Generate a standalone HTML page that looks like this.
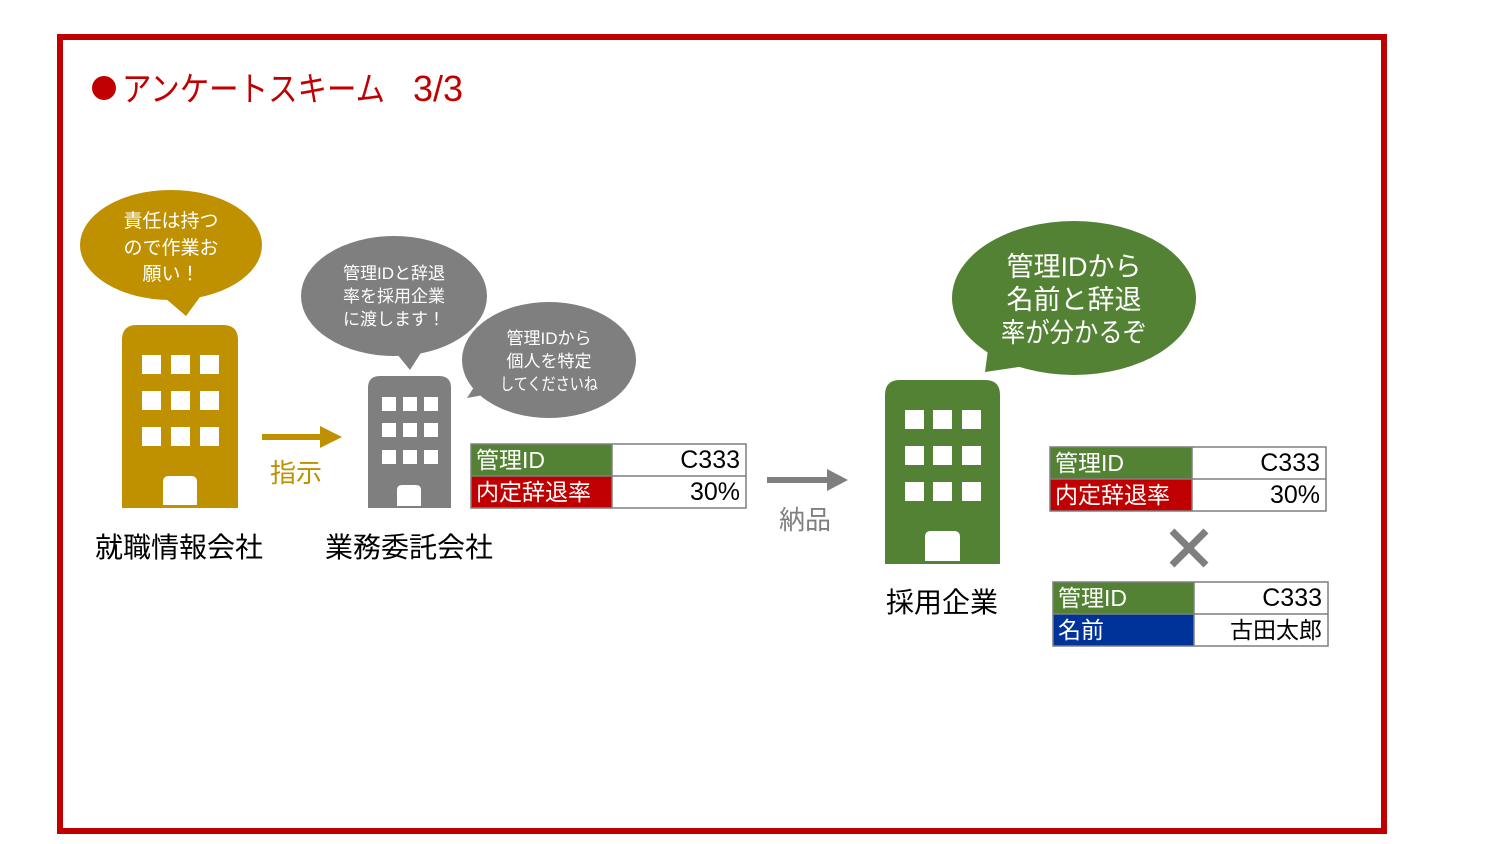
<!DOCTYPE html>
<html><head><meta charset="utf-8"><style>
body{margin:0;width:1500px;height:844px;background:#fff;overflow:hidden}
svg{display:block}
text{font-family:"Liberation Sans","Noto Sans CJK JP",sans-serif}
</style></head><body>
<svg width="1500" height="844" viewBox="0 0 1500 844">
<rect x="60" y="37" width="1324" height="794" fill="none" stroke="#C00000" stroke-width="6"/>
<circle cx="104" cy="88" r="12" fill="#C00000"/>
<text x="122" y="101" font-size="34" fill="#C00000" textLength="263" lengthAdjust="spacingAndGlyphs">アンケートスキーム</text>
<text x="413" y="101" font-size="36" fill="#C00000">3/3</text>

<!-- bubble 1 gold -->
<path d="M165,298 L186,316 L200,297 Z" fill="#BF9000"/>
<ellipse cx="171" cy="245" rx="91" ry="55" fill="#BF9000"/>
<g fill="#fff" font-size="19" text-anchor="middle">
<text x="171" y="227">責任は持つ</text><text x="171" y="254">ので作業お</text><text x="171" y="280">願い！</text></g>

<!-- building 1 -->
<path d="M122,508 V340 Q122,325 137,325 H223 Q238,325 238,340 V508 Z" fill="#BF9000"/>
<g fill="#fff">
<rect x="142" y="355" width="19" height="19"/><rect x="171" y="355" width="19" height="19"/><rect x="200" y="355" width="19" height="19"/>
<rect x="142" y="391" width="19" height="19"/><rect x="171" y="391" width="19" height="19"/><rect x="200" y="391" width="19" height="19"/>
<rect x="142" y="427" width="19" height="19"/><rect x="171" y="427" width="19" height="19"/><rect x="200" y="427" width="19" height="19"/>
<path d="M163,505 V482 Q163,476 169,476 H191 Q197,476 197,482 V505 Z"/></g>

<!-- arrow gold -->
<rect x="262" y="434" width="60" height="6" fill="#BF9000"/>
<path d="M320,426 L342,437 L320,448 Z" fill="#BF9000"/>
<text x="296" y="482" font-size="26" fill="#BF9000" text-anchor="middle">指示</text>

<!-- bubble 2 gray -->
<path d="M392,348 L410,370 L424,348 Z" fill="#7F7F7F"/>
<ellipse cx="394" cy="296" rx="93" ry="60" fill="#7F7F7F"/>
<g fill="#fff" font-size="17" text-anchor="middle">
<text x="394" y="279">管理IDと辞退</text><text x="394" y="302">率を採用企業</text><text x="394" y="325">に渡します！</text></g>

<!-- bubble 3 gray -->
<path d="M485,370 L467,398 L500,392 Z" fill="#7F7F7F"/>
<ellipse cx="549" cy="360" rx="87" ry="58" fill="#7F7F7F"/>
<g fill="#fff" font-size="17" text-anchor="middle">
<text x="549" y="344">管理IDから</text><text x="549" y="367">個人を特定</text><text x="549" y="390" textLength="98" lengthAdjust="spacingAndGlyphs">してくださいね</text></g>

<!-- building 2 -->
<path d="M368,508 V388 Q368,376 380,376 H439 Q451,376 451,388 V508 Z" fill="#7F7F7F"/>
<g fill="#fff">
<rect x="382" y="397" width="14" height="14"/><rect x="403" y="397" width="14" height="14"/><rect x="424" y="397" width="14" height="14"/>
<rect x="382" y="423" width="14" height="14"/><rect x="403" y="423" width="14" height="14"/><rect x="424" y="423" width="14" height="14"/>
<rect x="382" y="450" width="14" height="14"/><rect x="403" y="450" width="14" height="14"/><rect x="424" y="450" width="14" height="14"/>
<path d="M397,506 V490 Q397,485 402,485 H416 Q421,485 421,490 V506 Z"/></g>

<!-- table 1 -->
<rect x="471" y="444" width="141" height="32" fill="#548235"/>
<rect x="471" y="476" width="141" height="32" fill="#C00000"/>
<rect x="471" y="444" width="275" height="64" fill="none" stroke="#7F7F7F" stroke-width="1.5"/>
<line x1="471" y1="476" x2="746" y2="476" stroke="#7F7F7F" stroke-width="1.5"/>
<line x1="612" y1="444" x2="612" y2="508" stroke="#7F7F7F" stroke-width="1.5"/>
<g font-size="23"><text x="476" y="468" fill="#fff">管理ID</text><text x="476" y="500" fill="#fff">内定辞退率</text>
<text x="740" y="468" text-anchor="end" font-size="25" fill="#000">C333</text><text x="740" y="500" text-anchor="end" font-size="25" fill="#000">30%</text></g>

<g font-size="28" fill="#000" text-anchor="middle">
<text x="179" y="557">就職情報会社</text><text x="409" y="557">業務委託会社</text><text x="942" y="612">採用企業</text></g>

<!-- arrow gray -->
<rect x="767" y="477" width="62" height="6" fill="#7F7F7F"/>
<path d="M827,469 L848,480 L827,491 Z" fill="#7F7F7F"/>
<text x="805" y="529" font-size="26" fill="#7F7F7F" text-anchor="middle">納品</text>

<!-- green bubble -->
<path d="M990,335 L985,372 L1025,366 Z" fill="#548235"/>
<ellipse cx="1074" cy="298" rx="122" ry="77" fill="#548235"/>
<g fill="#fff" font-size="27" text-anchor="middle">
<text x="1074" y="276">管理IDから</text><text x="1074" y="309">名前と辞退</text><text x="1074" y="342" textLength="146" lengthAdjust="spacingAndGlyphs">率が分かるぞ</text></g>

<!-- building 3 -->
<path d="M885,564 V395 Q885,380 900,380 H985 Q1000,380 1000,395 V564 Z" fill="#548235"/>
<g fill="#fff">
<rect x="905" y="410" width="19" height="19"/><rect x="933" y="410" width="19" height="19"/><rect x="962" y="410" width="19" height="19"/>
<rect x="905" y="446" width="19" height="19"/><rect x="933" y="446" width="19" height="19"/><rect x="962" y="446" width="19" height="19"/>
<rect x="905" y="482" width="19" height="19"/><rect x="933" y="482" width="19" height="19"/><rect x="962" y="482" width="19" height="19"/>
<path d="M925,561 V537 Q925,531 931,531 H954 Q960,531 960,537 V561 Z"/></g>

<!-- table 2 -->
<rect x="1050" y="447" width="142" height="32" fill="#548235"/>
<rect x="1050" y="479" width="142" height="32" fill="#C00000"/>
<rect x="1050" y="447" width="276" height="64" fill="none" stroke="#7F7F7F" stroke-width="1.5"/>
<line x1="1050" y1="479" x2="1326" y2="479" stroke="#7F7F7F" stroke-width="1.5"/>
<line x1="1192" y1="447" x2="1192" y2="511" stroke="#7F7F7F" stroke-width="1.5"/>
<g font-size="23"><text x="1055" y="471" fill="#fff">管理ID</text><text x="1055" y="503" fill="#fff">内定辞退率</text>
<text x="1320" y="471" text-anchor="end" font-size="25">C333</text><text x="1320" y="503" text-anchor="end" font-size="25">30%</text></g>

<!-- X -->
<g stroke="#7F7F7F" stroke-width="7"><line x1="1172" y1="531" x2="1206" y2="565"/><line x1="1206" y1="531" x2="1172" y2="565"/></g>

<!-- table 3 -->
<rect x="1053" y="582" width="141" height="32" fill="#548235"/>
<rect x="1053" y="614" width="141" height="32" fill="#003399"/>
<rect x="1053" y="582" width="275" height="64" fill="none" stroke="#7F7F7F" stroke-width="1.5"/>
<line x1="1053" y1="614" x2="1328" y2="614" stroke="#7F7F7F" stroke-width="1.5"/>
<line x1="1194" y1="582" x2="1194" y2="646" stroke="#7F7F7F" stroke-width="1.5"/>
<g font-size="23"><text x="1058" y="606" fill="#fff">管理ID</text><text x="1058" y="638" fill="#fff">名前</text>
<text x="1322" y="606" text-anchor="end" font-size="25">C333</text><text x="1322" y="638" text-anchor="end">古田太郎</text></g>
</svg>
</body></html>
